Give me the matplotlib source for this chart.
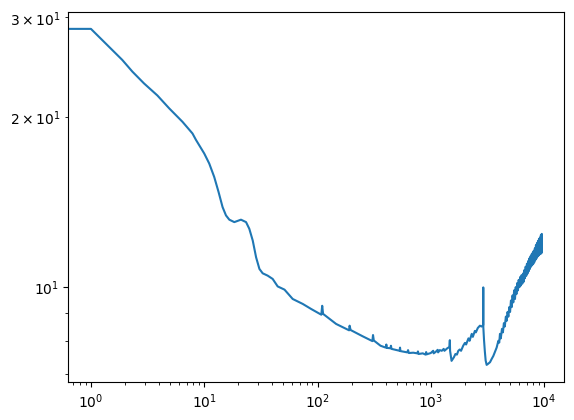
import numpy as np
import matplotlib
matplotlib.use("Agg")
import matplotlib.pyplot as plt

# smooth falling part (x = 0 gets clipped to the left edge on log scale)
x_head = [0, 1, 1.89, 2.32, 2.94, 3.86, 4.9, 6.43, 7.88, 8.44, 9.35,
          10, 11.07, 12.25, 13.38, 14.52, 15.56, 16.65, 18.43, 21.1, 23.4, 25.0,
          26.8, 28.7, 30.7, 32.8, 36.3, 40.2, 44.5, 51.1, 60.4, 74.1, 87.9]
y_head = [28.6, 28.6, 25.2, 24.03, 22.9, 21.8, 20.69, 19.58, 18.67, 18.2, 17.6,
          17.21, 16.52, 15.64, 14.71, 13.83, 13.37, 13.14, 13.01, 13.14, 13.01, 12.66,
          12.07, 11.27, 10.75, 10.56, 10.46, 10.32, 10.01, 9.88, 9.51, 9.32, 9.13]

# flat bottom with small spikes, the dip at ~1500 and the spike at ~2900
x_mid = [108, 110, 112, 125, 146, 190, 192, 196, 250, 305, 309, 314, 360,
         400, 405, 410, 440, 445, 450, 530, 535, 540, 620, 630, 640, 700,
         760, 770, 780, 850, 900, 910, 920, 1000, 1050, 1060, 1100, 1150,
         1160, 1200, 1250, 1300, 1320, 1400, 1460, 1473, 1480, 1525, 1600,
         1650, 1700, 1750, 1800, 1850, 1932, 2000, 2050, 2150, 2200, 2300,
         2350, 2450, 2500, 2600, 2715, 2800, 2900, 2905, 2910, 2950, 3000,
         3050, 3112, 3200, 3334, 3450, 3566, 3700, 3813]
y_mid = [8.92, 9.25, 8.95, 8.80, 8.59, 8.37, 8.53, 8.38, 8.17, 8.01, 8.21, 8.03, 7.86,
         7.80, 7.90, 7.79, 7.78, 7.86, 7.76, 7.70, 7.80, 7.69, 7.65, 7.72, 7.63, 7.64,
         7.62, 7.68, 7.60, 7.62, 7.58, 7.66, 7.59, 7.63, 7.70, 7.62, 7.66, 7.73,
         7.65, 7.72, 7.70, 7.76, 7.70, 7.78, 7.82, 8.04, 7.70, 7.39, 7.50,
         7.60, 7.58, 7.70, 7.74, 7.70, 7.86, 7.95, 7.90, 8.10, 8.02, 8.25,
         8.15, 8.35, 8.30, 8.45, 8.53, 8.50, 8.55, 9.97, 8.47, 8.05, 7.68,
         7.40, 7.27, 7.30, 7.35, 7.45, 7.54, 7.68, 7.80]

# noisy rising tail
x_tail = [3950, 4020, 4080, 4150, 4250, 4330, 4420, 4500, 4600, 4677, 4760, 4840,
          4930, 5010, 5100, 5180, 5270, 5350, 5440, 5537, 5620, 5700, 5800, 5880,
          5970, 6060, 6150, 6240, 6330, 6420, 6520, 6600, 6700, 6780, 6880, 6960,
          7060, 7140, 7240, 7320, 7420, 7500, 7600, 7680, 7780, 7860, 7960, 8036,
          8120, 8200, 8300, 8380, 8480, 8560, 8660, 8740, 8840, 8920, 9020, 9100,
          9200, 9280, 9380, 9450, 9548, 9560]
y_tail = [8.02, 7.96, 8.25, 8.10, 8.42, 8.30, 8.62, 8.50, 8.85, 8.70, 9.02, 8.85,
          9.20, 9.02, 9.45, 9.20, 9.65, 9.38, 9.85, 9.51, 9.98, 9.70, 10.15, 9.85,
          10.28, 9.98, 10.40, 10.05, 10.48, 10.12, 10.55, 10.20, 10.70, 10.35, 10.85, 10.45,
          10.98, 10.55, 11.10, 10.65, 11.22, 10.75, 11.32, 10.85, 11.42, 10.92, 11.50, 10.98,
          11.58, 11.05, 11.70, 11.15, 11.85, 11.22, 11.95, 11.30, 12.05, 11.35, 12.15, 11.40,
          12.22, 11.45, 12.35, 11.45, 12.40, 11.55]

x = np.array(x_head + x_mid + x_tail, dtype=float)
y = np.array(y_head + y_mid + y_tail)

fig, ax = plt.subplots()
ax.plot(x, y)
ax.set_xscale("log")
ax.set_yscale("log")

plt.savefig("out.png", dpi=100, bbox_inches="tight")
